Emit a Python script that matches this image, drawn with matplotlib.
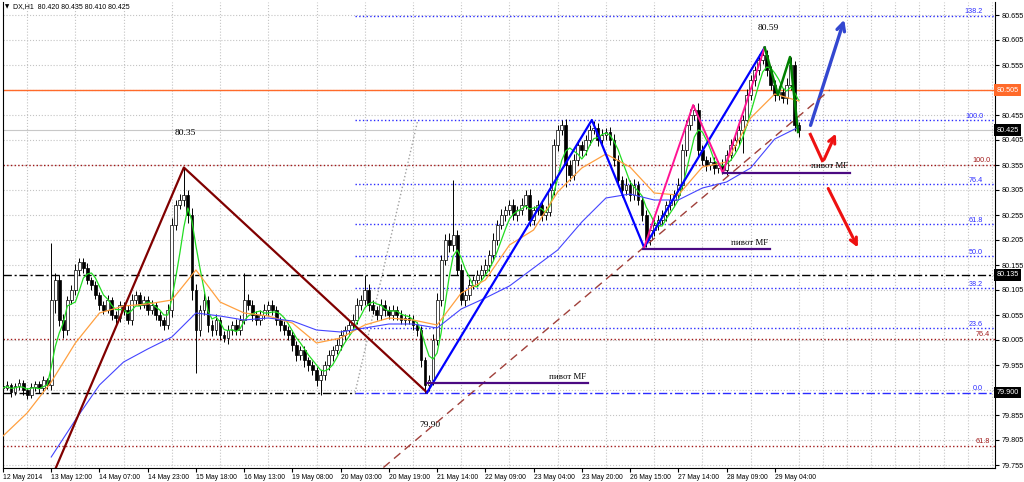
import numpy as np
import pandas as pd
import matplotlib
matplotlib.use('Agg')
import matplotlib.pyplot as plt
import matplotlib.transforms as mtransforms

# hourly DX closes
closes = [
    79.909, 79.915, 79.901, 79.913, 79.919, 79.905, 79.895, 79.911, 79.917, 79.909,
    79.925, 79.915, 80.085, 80.125, 80.045, 80.025, 80.085, 80.105, 80.145, 80.161,
    80.149, 80.125, 80.115, 80.095, 80.075, 80.065, 80.085, 80.055, 80.049, 80.075,
    80.065, 80.045, 80.085, 80.095, 80.075, 80.085, 80.065, 80.075, 80.055, 80.045,
    80.035, 80.065, 80.235, 80.275, 80.285, 80.295, 80.255, 80.105, 80.025, 80.065,
    80.085, 80.035, 80.025, 80.045, 80.015, 80.009, 80.025, 80.035, 80.025, 80.045,
    80.085, 80.075, 80.055, 80.045, 80.055, 80.065, 80.075, 80.065, 80.045, 80.035,
    80.025, 80.015, 79.995, 79.975, 79.985, 79.965, 79.955, 79.945, 79.925, 79.935,
    79.955, 79.975, 79.985, 79.995, 80.015, 80.025, 80.035, 80.045, 80.075, 80.085,
    80.105, 80.075, 80.065, 80.055, 80.075, 80.065, 80.055, 80.065, 80.055, 80.045,
    80.049, 80.045, 80.035, 80.025, 79.965, 79.915, 79.925, 80.005, 80.085, 80.165,
    80.205, 80.195, 80.215, 80.145, 80.085, 80.095, 80.115, 80.125, 80.135, 80.145,
    80.155, 80.175, 80.205, 80.235, 80.255, 80.265, 80.275, 80.255, 80.265, 80.275,
    80.295, 80.245, 80.265, 80.275, 80.255, 80.261, 80.305, 80.395, 80.425, 80.435,
    80.355, 80.335, 80.365, 80.395, 80.385, 80.405, 80.425, 80.429, 80.405, 80.415,
    80.421, 80.405, 80.365, 80.325, 80.305, 80.315, 80.295, 80.315, 80.285, 80.255,
    80.205, 80.225, 80.235, 80.245, 80.255, 80.275, 80.285, 80.295, 80.315, 80.385,
    80.435, 80.455, 80.465, 80.385, 80.365, 80.355, 80.361, 80.349, 80.355, 80.345,
    80.375, 80.395, 80.405, 80.425, 80.445, 80.495, 80.525, 80.545, 80.565, 80.575,
    80.545, 80.515, 80.495, 80.501, 80.489, 80.515, 80.555, 80.435, 80.425,
]
first_open = 79.912
# wicks above / below the body, in thousandths
wick_up = [
    6, 8, 5, 7, 9, 6, 5, 8, 7, 6, 9, 5, 114, 15, 10, 12, 8, 10, 12, 9,
    8, 10, 7, 9, 6, 8, 10, 7, 9, 8, 6, 10, 12, 8, 7, 9, 8, 10, 6, 8,
    7, 12, 15, 10, 12, 56, 10, 15, 12, 10, 14, 8, 10, 12, 7, 9, 10, 8, 12, 10,
    54, 12, 10, 8, 10, 12, 9, 10, 8, 7, 9, 8, 10, 7, 9, 8, 6, 8, 7, 10,
    8, 10, 9, 12, 10, 8, 10, 12, 14, 10, 30, 12, 10, 8, 12, 10, 9, 11, 8, 10,
    9, 8, 10, 7, 8, 6, 10, 12, 15, 10, 12, 14, 110, 10, 12, 10, 12, 9, 11, 10,
    12, 10, 14, 10, 12, 9, 10, 12, 8, 14, 10, 12, 9, 11, 10, 12, 15, 12, 10, 10,
    12, 10, 12, 10, 9, 11, 10, 14, 10, 12, 8, 10, 12, 10, 9, 14, 10, 12, 9, 8,
    10, 9, 12, 10, 11, 9, 12, 10, 14, 12, 10, 12, 10, 14, 10, 9, 11, 10, 9, 12,
    10, 12, 9, 11, 10, 12, 10, 9, 12, 16, 10, 8, 10, 12, 9, 14, 16, 8, 6,
]
wick_dn = [
    7, 5, 9, 6, 8, 10, 7, 5, 8, 9, 6, 8, 10, 25, 12, 15, 10, 8, 10, 9,
    10, 8, 9, 7, 10, 8, 6, 9, 12, 8, 10, 7, 9, 10, 8, 6, 9, 7, 10, 12,
    10, 8, 14, 10, 8, 12, 15, 20, 86, 12, 10, 14, 12, 9, 10, 8, 12, 10, 9, 11,
    8, 10, 12, 9, 10, 8, 11, 9, 10, 12, 10, 9, 11, 12, 10, 14, 12, 10, 12, 30,
    10, 9, 12, 8, 10, 9, 8, 10, 7, 9, 10, 12, 8, 10, 9, 11, 8, 10, 9, 8,
    10, 8, 9, 12, 14, 15, 12, 10, 9, 12, 10, 14, 12, 10, 9, 12, 10, 8, 11, 9,
    10, 12, 9, 10, 8, 11, 10, 9, 12, 10, 8, 12, 10, 9, 11, 10, 8, 10, 12, 9,
    44, 12, 10, 9, 12, 10, 9, 8, 11, 10, 9, 10, 12, 10, 14, 10, 12, 9, 10, 12,
    14, 10, 12, 10, 9, 11, 10, 12, 9, 10, 12, 10, 9, 12, 10, 11, 9, 12, 10, 8,
    10, 9, 12, 10, 46, 10, 9, 12, 10, 8, 11, 10, 12, 9, 10, 11, 9, 12, 14,
]

date_labels = ['12 May 2014', '13 May 12:00', '14 May 07:00', '14 May 23:00', '15 May 18:00',
               '16 May 13:00', '19 May 08:00', '20 May 03:00', '20 May 19:00', '21 May 14:00',
               '22 May 09:00', '23 May 04:00', '23 May 20:00', '26 May 15:00', '27 May 14:00',
               '28 May 09:00', '29 May 04:00']

# slow moving averages, sampled every 6 bars
ma_orange = [79.813, 79.859, 79.921, 79.999, 80.059, 80.073, 80.077, 80.085, 80.145, 80.081,
             80.059, 80.053, 80.039, 79.999, 80.009, 80.035, 80.049, 80.045, 80.035, 80.099,
             80.125, 80.195, 80.225, 80.301, 80.349, 80.377, 80.351, 80.299, 80.295, 80.351,
             80.361, 80.449, 80.497, 80.483]
ma_blue = [79.771, 79.845, 79.915, 79.961, 79.987, 80.011, 80.059, 80.053, 80.045, 80.049,
           80.043, 80.025, 80.021, 80.029, 80.037, 80.037, 80.029, 80.067, 80.089, 80.113,
           80.149, 80.185, 80.241, 80.289, 80.297, 80.285, 80.285, 80.309, 80.321, 80.349,
           80.407, 80.431]

# zigzag pivots (bar, price)
zz_maroon_bar = [10, 45, 105.5]
zz_maroon_px = [79.69, 80.35, 79.90]
zz_blue_bar = [105.5, 146.5, 159.5, 189.5]
zz_blue_px = [79.90, 80.445, 80.19, 80.59]
zz_pink_bar = [159.5, 171.7, 179.1, 189.5]
zz_pink_px = [80.19, 80.475, 80.339, 80.59]
zz_green_bar = [189.5, 192.8, 195.8, 197.8]
zz_green_px = [80.59, 80.495, 80.571, 80.421]

trend_bar = [92, 205.7]
trend_px = [79.732, 80.505]

fib_blue_levels = ['0.0', '23.6', '38.2', '50.0', '61.8', '76.4', '100.0', '138.2']
fib_blue_low, fib_blue_high = 79.90, 80.445
fib_blue_start = 87.6
fib_red_levels = ['100.0', '76.4', '61.8']
fib_red_px = [80.355, 80.007, 79.793]

pivot_bars = [(105.5, 145.5), (159.2, 190.8), (179.1, 210.7)]
pivot_px = [79.919, 80.187, 80.340]

last_price = 80.425
box_prices = [80.505, 80.425, 80.135, 79.900]
box_colors = ['#ff6a2a', 'black', 'black', 'black']

SANS = 'Liberation Sans'
SERIF = 'Liberation Serif'

fig = plt.figure(figsize=(10.24, 4.82), dpi=100)
ax = fig.add_axes([3 / 1024, 14 / 482, 992 / 1024, 466 / 482])
xmax = 246.8
ax.set_xlim(0, xmax)
ax.set_ylim(79.749, 80.681)

# grid
ax.set_xticks(range(0, 193, 12))
ax.set_xticks(range(0, 247, 6), minor=True)
ax.set_xticklabels(date_labels, ha='left', fontsize=4.9, family=SANS)
ax.grid(which='minor', axis='x', color='#c4c4c4', linestyle=':', lw=0.8)
yt = [round(79.755 + 0.05 * k, 3) for k in range(19)]
ax.set_yticks(yt)
# labels hidden under the price boxes are left blank
ax.set_yticklabels(['' if v in (80.505, 79.905) else '%.3f' % v for v in yt],
                   fontsize=5.2, family=SANS)
ax.grid(which='major', axis='y', color='#c4c4c4', linestyle=':', lw=0.8)
ax.yaxis.tick_right()
ax.tick_params(axis='x', which='minor', length=0)
ax.tick_params(axis='x', which='major', length=3, pad=1.5)
ax.tick_params(axis='y', length=3, pad=1.5)
ax.spines['top'].set_visible(False)
for s in ['left', 'right', 'bottom']:
    ax.spines[s].set_linewidth(0.8)

blend = mtransforms.blended_transform_factory(ax.transAxes, ax.transData)

# fib levels
for lab, p in zip(fib_red_levels, fib_red_px):
    ax.axhline(p, color='#a01818', linestyle=':', lw=1)
    ax.text(0.995, p + 0.001, lab, transform=blend, ha='right', va='bottom', fontsize=5.2,
            color='#a01818', family=SANS)
rng = fib_blue_high - fib_blue_low
for lab in fib_blue_levels:
    p = fib_blue_low + float(lab) / 100 * rng
    ls = (0, (6, 2, 1.5, 2)) if lab == '0.0' else ':'
    ax.hlines(p, fib_blue_start, xmax, color='#2b2bff', linestyle=ls, lw=1)
    ax.text(0.988, p + 0.001, lab, transform=blend, ha='right', va='bottom', fontsize=5.2,
            color='#2b2bff', family=SANS)
ax.plot([fib_blue_start, 103.2], [fib_blue_low, fib_blue_high], color='#a0a0a0', linestyle=':', lw=1)

# horizontal price lines
ax.axhline(80.505, color='#ff6a2a', lw=1)
ax.axhline(80.135, color='black', lw=1, linestyle=(0, (6, 2, 1.5, 2)))
ax.hlines(79.900, 0, fib_blue_start, color='black', lw=1, linestyle=(0, (6, 2, 1.5, 2)))
ax.axhline(last_price, color='#c8c8c8', lw=0.8)

# candles
c = np.array(closes)
o = np.r_[first_open, c[:-1]]
hi = np.maximum(o, c) + np.array(wick_up) / 1000
lo = np.minimum(o, c) - np.array(wick_dn) / 1000
idx = np.arange(len(c))
ax.vlines(idx, lo, hi, color='black', lw=0.7, zorder=3)
body = np.maximum(np.abs(c - o), 0.0015)
up = c >= o
ax.bar(idx[up], body[up], bottom=np.minimum(o, c)[up], width=0.7, color='white',
       edgecolor='black', lw=0.5, zorder=3)
ax.bar(idx[~up], body[~up], bottom=np.minimum(o, c)[~up], width=0.7, color='black',
       edgecolor='black', lw=0.5, zorder=3)

# moving averages
ma_green = pd.Series(c).rolling(5, min_periods=1).mean()
ax.plot(idx, ma_green, color='#22dd22', lw=0.9, zorder=4)
ax.plot(np.arange(0, 6 * len(ma_orange), 6), ma_orange, color='#ffa040', lw=0.9, zorder=4)
ax.plot(np.arange(12, 12 + 6 * len(ma_blue), 6), ma_blue, color='#4444ff', lw=0.8, zorder=4)

# zigzags and trend
ax.plot(trend_bar, trend_px, color='#a0403a', lw=1, linestyle=(0, (6, 4)), zorder=4)
ax.plot(zz_maroon_bar, zz_maroon_px, color='#800000', lw=1.6, zorder=5)
ax.plot(zz_blue_bar, zz_blue_px, color='#0000ff', lw=1.6, zorder=5)
ax.plot(zz_pink_bar, zz_pink_px, color='#ff1493', lw=1.4, zorder=5)
ax.plot(zz_green_bar, zz_green_px, color='#008000', lw=1.8, zorder=5)

# pivots
for (b0, b1), p in zip(pivot_bars, pivot_px):
    ax.plot([b0, b1], [p, p], color='#4b0a82', lw=1.6, zorder=5)
    ax.text(b1 - 0.5, p + 0.005, 'пивот MF', ha='right', va='bottom', fontsize=6.3,
            family=SERIF, zorder=6)

# arrows
ax.annotate('', xy=(209.5, 80.651), xytext=(200.7, 80.429),
            arrowprops=dict(arrowstyle='->', color='#3347d0', lw=2.4, mutation_scale=14))
ax.plot([200.7, 204.0], [80.419, 80.361], color='#ee1111', lw=2.2, solid_capstyle='butt')
ax.annotate('', xy=(207.5, 80.423), xytext=(204.0, 80.361),
            arrowprops=dict(arrowstyle='->', color='#ee1111', lw=2.2, mutation_scale=12))
ax.annotate('', xy=(213.0, 80.185), xytext=(205.0, 80.313),
            arrowprops=dict(arrowstyle='->', color='#ee1111', lw=2.2, mutation_scale=12))

# price notes
for b, p, t in [(45.3, 80.419, '80.35'), (190.3, 80.629, '80.59'), (106.2, 79.835, '79.90')]:
    ax.text(b, p, t, ha='center', va='center', fontsize=6.8, family=SERIF)

# right-side price boxes
for p, fc in zip(box_prices, box_colors):
    ax.text(1.0015, p, '%.3f' % p, transform=blend, ha='left', va='center', fontsize=5.2,
            color='white', zorder=10, clip_on=False, family=SANS,
            bbox=dict(boxstyle='square,pad=0.3', fc=fc, ec='none'))

fig.text(5 / 1024, 1 - 7 / 482, '▼', fontsize=4, va='center')
fig.text(13 / 1024, 1 - 7 / 482, 'DX,H1  80.420 80.435 80.410 80.425', fontsize=5,
         va='center', family=SANS)

fig.savefig('out.png', dpi=100)
